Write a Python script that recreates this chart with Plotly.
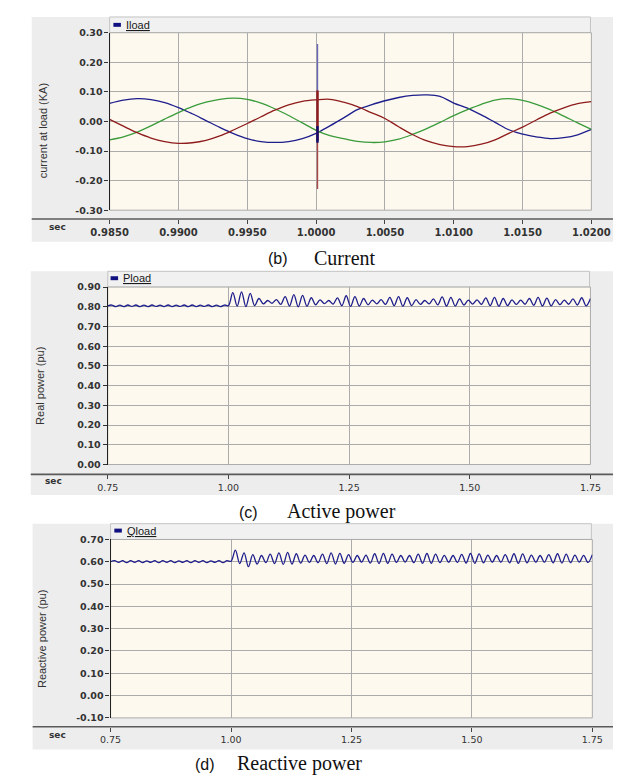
import numpy as np
import plotly.graph_objects as go

# ---------------- DATA ----------------
# Panel (b): load current (kA), sampled every 1 ms from 0.985 s to 1.020 s
t_current = [round(0.985 + 0.001 * i, 3) for i in range(36)]
i_blue = [0.061, 0.072, 0.077, 0.074, 0.064, 0.047, 0.026, 0.003, -0.020, -0.041,
          -0.058, -0.068, -0.071, -0.068, -0.058, -0.040,
          -0.015, 0.012, 0.040, 0.056, 0.070, 0.081, 0.088, 0.090, 0.085, 0.062,
          0.045, 0.022, -0.003, -0.028, -0.043, -0.052, -0.058, -0.055, -0.045, -0.027]
i_red = [0.007, -0.016, -0.038, -0.056, -0.068, -0.074, -0.072, -0.064, -0.049, -0.029,
         -0.007, 0.016, 0.038, 0.056, 0.068, 0.073,
         0.075, 0.065, 0.050, 0.030, 0.010, -0.018, -0.044, -0.065, -0.078, -0.085,
         -0.085, -0.077, -0.062, -0.040, -0.019, 0.005, 0.028, 0.046, 0.060, 0.067]
i_green = [-0.062, -0.052, -0.036, -0.015, 0.008, 0.030, 0.050, 0.065, 0.075, 0.079,
           0.075, 0.062, 0.043, 0.020, -0.005, -0.030,
           -0.048, -0.058, -0.067, -0.071, -0.069, -0.060, -0.044, -0.025, -0.003, 0.020,
           0.040, 0.058, 0.072, 0.077, 0.071, 0.058, 0.040, 0.018, -0.005, -0.027]
# switching transient at t = 1.0001 s
spike_t = [1.0001, 1.0001]
spike_blue = [0.262, -0.072]
spike_blue_core = [-0.015, -0.072]
spike_red = [0.105, -0.228]
spike_red_core = [0.105, -0.065]

# Panels (c)/(d): ripple extremes (pre-fault 0.75-1.0 s, post-fault 1.0-1.75 s)
t_pre = np.linspace(0.75, 1.0, 31)
t_post = np.linspace(1.0, 1.75, 84)[1:]
p_pre = [0.805, 0.809, 0.801, 0.808, 0.801, 0.809, 0.802, 0.809, 0.801, 0.808, 0.801,
         0.809, 0.802, 0.808, 0.801, 0.809, 0.801, 0.808, 0.802, 0.809, 0.801, 0.809,
         0.801, 0.808, 0.802, 0.809, 0.801, 0.808, 0.801, 0.809, 0.806]
p_peaks = [0.872, 0.876, 0.868, 0.842, 0.832, 0.836, 0.852, 0.862, 0.858, 0.846,
           0.835, 0.832, 0.845, 0.856, 0.852, 0.842, 0.834, 0.836, 0.848, 0.852,
           0.846, 0.836, 0.832, 0.840, 0.850, 0.848, 0.840, 0.834, 0.835, 0.845,
           0.848, 0.842, 0.835, 0.834, 0.842, 0.848, 0.844, 0.836, 0.834, 0.840,
           0.846, 0.842]
p_troughs = [0.803, 0.801, 0.806, 0.815, 0.818, 0.812, 0.804, 0.800, 0.803, 0.810,
             0.816, 0.814, 0.806, 0.802, 0.804, 0.810, 0.815, 0.812, 0.806, 0.803,
             0.806, 0.812, 0.815, 0.810, 0.804, 0.804, 0.809, 0.814, 0.812, 0.806,
             0.803, 0.806, 0.812, 0.813, 0.808, 0.804, 0.805, 0.811, 0.813, 0.809,
             0.805]
q_pre = [0.600, 0.605, 0.597, 0.605, 0.596, 0.605, 0.597, 0.605, 0.596, 0.604, 0.597,
         0.605, 0.596, 0.605, 0.597, 0.605, 0.596, 0.604, 0.597, 0.605, 0.596, 0.605,
         0.597, 0.605, 0.596, 0.604, 0.597, 0.605, 0.596, 0.605, 0.602]
q_peaks = [0.652, 0.640, 0.632, 0.628, 0.634, 0.640, 0.642, 0.636, 0.630, 0.628,
           0.634, 0.640, 0.638, 0.632, 0.628, 0.630, 0.636, 0.638, 0.634, 0.628,
           0.628, 0.634, 0.637, 0.634, 0.629, 0.628, 0.633, 0.637, 0.635, 0.630,
           0.628, 0.632, 0.636, 0.635, 0.630, 0.628, 0.632, 0.636, 0.634, 0.630,
           0.629, 0.632]
q_troughs = [0.592, 0.578, 0.590, 0.596, 0.592, 0.588, 0.590, 0.594, 0.597, 0.596,
             0.592, 0.590, 0.593, 0.597, 0.598, 0.594, 0.592, 0.593, 0.597, 0.598,
             0.596, 0.593, 0.593, 0.596, 0.598, 0.597, 0.594, 0.593, 0.595, 0.598,
             0.598, 0.595, 0.593, 0.595, 0.598, 0.598, 0.595, 0.594, 0.596, 0.598,
             0.597]

# Tick labels
i_xticks = [0.985, 0.990, 0.995, 1.000, 1.005, 1.010, 1.015, 1.020]
i_xlabels = ["0.9850", "0.9900", "0.9950", "1.0000", "1.0050", "1.0100", "1.0150", "1.0200"]
i_yticks = [-0.3, -0.2, -0.1, 0.0, 0.1, 0.2, 0.3]
i_ylabels = ["-0.30", "-0.20", "-0.10", "0.00", "0.10", "0.20", "0.30"]
pq_xticks = [0.75, 1.00, 1.25, 1.50, 1.75]
pq_xlabels = ["0.75", "1.00", "1.25", "1.50", "1.75"]
p_yticks = [0.0, 0.1, 0.2, 0.3, 0.4, 0.5, 0.6, 0.7, 0.8, 0.9]
p_ylabels = ["0.00", "0.10", "0.20", "0.30", "0.40", "0.50", "0.60", "0.70", "0.80", "0.90"]
q_yticks = [-0.1, 0.0, 0.1, 0.2, 0.3, 0.4, 0.5, 0.6, 0.7]
q_ylabels = ["-0.10", "0.00", "0.10", "0.20", "0.30", "0.40", "0.50", "0.60", "0.70"]


def interleave(peaks, troughs):
    out = []
    for k, p in enumerate(peaks):
        out.append(p)
        if k < len(troughs):
            out.append(troughs[k])
    return out


def bold(labels):
    return ["<b>" + s + "</b>" for s in labels]


p_series = list(p_pre) + interleave(p_peaks, p_troughs)
q_series = list(q_pre) + interleave(q_peaks, q_troughs)
t_series = list(t_pre) + list(t_post)

# ---------------- STYLE ----------------
W, H = 624, 778
def px(x): return x / W
def py(y): return 1 - y / H

NAVY = "#1E1E8C"
RED = "#8E1C1C"
GREEN = "#3A9B3A"
PANEL = "#EDEDED"
STRIP = "#F1F1F1"
CREAM = "#FDF9EE"
GRID = "#ABABAB"
TICKC = "#333333"

panels = [
    dict(x0=88, x1=601, yt=19, yb=199, ax=208, box=(5, 3, 624, 231), strip_b=19,
         sec=(32, 216), title="current at load (KA)", tpos=(17, 118), leg="Iload",
         legx=92, legy=11, xfs=10, xbold=True),
    dict(x0=86, x1=600, yt=277, yb=457, ax=467, box=(4, 261, 624, 488), strip_b=277,
         sec=(28, 474), title="Real power (pu)", tpos=(13, 377), leg="Pload",
         legx=89, legy=268, xfs=9.5, xbold=False),
    dict(x0=89, x1=602, yt=533, yb=714, ax=723, box=(6, 517, 624, 746), strip_b=533,
         sec=(32, 731), title="Reactive power (pu)", tpos=(16, 634), leg="Qload",
         legx=93, legy=524, xfs=9.5, xbold=False),
]

fig = go.Figure()

# traces panel (b)
fig.add_trace(go.Scatter(x=t_current, y=i_blue, mode="lines", line=dict(color=NAVY, width=1.3, shape="spline"),
                         xaxis="x", yaxis="y", showlegend=False, hoverinfo="skip"))
fig.add_trace(go.Scatter(x=t_current, y=i_green, mode="lines", line=dict(color=GREEN, width=1.3, shape="spline"),
                         xaxis="x", yaxis="y", showlegend=False, hoverinfo="skip"))
fig.add_trace(go.Scatter(x=t_current, y=i_red, mode="lines", line=dict(color=RED, width=1.3, shape="spline"),
                         xaxis="x", yaxis="y", showlegend=False, hoverinfo="skip"))
fig.add_trace(go.Scatter(x=spike_t, y=spike_blue, mode="lines", line=dict(color="#6868B4", width=1.4),
                         xaxis="x", yaxis="y", showlegend=False, hoverinfo="skip"))
fig.add_trace(go.Scatter(x=spike_t, y=spike_red, mode="lines", line=dict(color="#A84848", width=1.4),
                         xaxis="x", yaxis="y", showlegend=False, hoverinfo="skip"))
fig.add_trace(go.Scatter(x=spike_t, y=spike_red_core, mode="lines", line=dict(color=RED, width=2.4),
                         xaxis="x", yaxis="y", showlegend=False, hoverinfo="skip"))
fig.add_trace(go.Scatter(x=spike_t, y=spike_blue_core, mode="lines", line=dict(color="#101070", width=2.4),
                         xaxis="x", yaxis="y", showlegend=False, hoverinfo="skip"))

# traces panels (c),(d)
fig.add_trace(go.Scatter(x=t_series, y=p_series, mode="lines",
                         line=dict(color=NAVY, width=1.3, shape="spline", smoothing=1.0),
                         xaxis="x2", yaxis="y2", showlegend=False, hoverinfo="skip"))
fig.add_trace(go.Scatter(x=t_series, y=q_series, mode="lines",
                         line=dict(color=NAVY, width=1.3, shape="spline", smoothing=1.0),
                         xaxis="x3", yaxis="y3", showlegend=False, hoverinfo="skip"))

# dummy traces for the detached tick axes
for ax, rng, yax in [("x4", [0.985, 1.020], "y"), ("x5", [0.75, 1.75], "y2"), ("x6", [0.75, 1.75], "y3")]:
    fig.add_trace(go.Scatter(x=rng, y=[None, None], mode="lines", xaxis=ax, yaxis=yax,
                             showlegend=False, hoverinfo="skip"))

shapes = []
annotations = []
layout_axes = {}

ranges = [
    dict(xr=[0.985, 1.020], xt=i_xticks, xl=i_xlabels, yr=[-0.30, 0.30], yt=i_yticks, yl=i_ylabels),
    dict(xr=[0.75, 1.75], xt=pq_xticks, xl=pq_xlabels, yr=[0.0, 0.90], yt=p_yticks, yl=p_ylabels),
    dict(xr=[0.75, 1.75], xt=pq_xticks, xl=pq_xlabels, yr=[-0.10, 0.70], yt=q_yticks, yl=q_ylabels),
]

for k, (p, r) in enumerate(zip(panels, ranges)):
    n = "" if k == 0 else str(k + 1)
    xa, ya, fa = "xaxis" + n, "yaxis" + n, "xaxis" + str(k + 4)
    xref = "x" + n
    yref = "y" + n
    bx0, by0, bx1, by1 = p["box"]
    shapes.append(dict(type="rect", xref="paper", yref="paper", layer="below",
                       x0=px(bx0), x1=px(bx1), y0=py(by1), y1=py(by0),
                       fillcolor=PANEL, line=dict(width=0)))
    shapes.append(dict(type="rect", xref="paper", yref="paper", layer="below",
                       x0=px(p["x0"]), x1=px(p["x1"] - 1), y0=py(p["strip_b"]), y1=py(by0),
                       fillcolor=STRIP, line=dict(color="#C4C4C4", width=1)))
    shapes.append(dict(type="rect", xref="paper", yref="paper", layer="below",
                       x0=px(p["x0"]), x1=px(p["x1"]), y0=py(p["yb"]), y1=py(p["yt"]),
                       fillcolor=CREAM, line=dict(color=GRID, width=1)))
    shapes.append(dict(type="line", xref="paper", yref="paper", layer="above",
                       x0=px(bx0), x1=px(bx1), y0=py(p["ax"]), y1=py(p["ax"]),
                       line=dict(color="#5A5A5A", width=1.6)))
    shapes.append(dict(type="rect", xref="paper", yref="paper", layer="above",
                       x0=px(p["legx"]), x1=px(p["legx"] + 8), y0=py(p["legy"] + 2), y1=py(p["legy"] - 2),
                       fillcolor="#101080", line=dict(width=0)))
    annotations.append(dict(xref="paper", yref="paper", x=px(p["legx"] + 11), y=py(p["legy"]),
                            xanchor="left", yanchor="middle", showarrow=False,
                            text="<u>" + p["leg"] + "</u>",
                            font=dict(family="Liberation Sans", size=11, color="#1A1A1A")))
    annotations.append(dict(xref="paper", yref="paper", x=px(p["sec"][0]), y=py(p["sec"][1]),
                            xanchor="center", yanchor="middle", showarrow=False, text="<b>sec</b>",
                            font=dict(family="DejaVu Sans", size=9, color="#333333")))
    annotations.append(dict(xref="paper", yref="paper", x=px(p["tpos"][0]), y=py(p["tpos"][1]),
                            xanchor="center", yanchor="middle", showarrow=False, textangle=-90,
                            text=p["title"],
                            font=dict(family="Liberation Sans", size=11, color="#333333")))

    dom_x = [px(p["x0"]), px(p["x1"])]
    dom_y = [py(p["yb"]), py(p["yt"])]
    layout_axes[xa] = dict(domain=dom_x, range=r["xr"], anchor=yref, tickvals=r["xt"],
                           showticklabels=False, ticks="", showgrid=True, gridcolor=GRID,
                           gridwidth=1, zeroline=False, showline=False, fixedrange=True)
    layout_axes[ya] = dict(domain=dom_y, range=r["yr"], anchor=xref, tickvals=r["yt"], ticktext=bold(r["yl"]),
                           ticks="outside", ticklen=4, tickcolor="#333333", tickwidth=1,
                           showgrid=True, gridcolor=GRID, gridwidth=1, zeroline=False,
                           showline=True, linecolor="#222222", linewidth=1.3,
                           tickfont=dict(family="DejaVu Sans", size=9.5, color=TICKC), fixedrange=True)
    layout_axes[fa] = dict(overlaying=xref, anchor="free", position=py(p["ax"]), side="bottom",
                           range=r["xr"], tickvals=r["xt"],
                           ticktext=bold(r["xl"]) if p["xbold"] else r["xl"],
                           ticks="outside", ticklen=4, tickcolor="#444444", tickwidth=1,
                           showgrid=False, zeroline=False, showline=False,
                           tickfont=dict(family="DejaVu Sans", size=p["xfs"], color=TICKC), fixedrange=True)

captions = [("(b)", "Current", 280, 303, 247), ("(c)", "Active power", 248, 275, 505),
            ("(d)", "Reactive power", 202, 222, 760)]
for lab, txt, xr, xl, yc in captions:
    annotations.append(dict(xref="paper", yref="paper", x=px(xr), y=py(yc + 1), xanchor="right",
                            yanchor="middle", showarrow=False, text=lab,
                            font=dict(family="Liberation Sans", size=16, color="#111111")))
    annotations.append(dict(xref="paper", yref="paper", x=px(xl), y=py(yc), xanchor="left",
                            yanchor="middle", showarrow=False, text=txt,
                            font=dict(family="Liberation Serif", size=20, color="#111111")))

fig.update_layout(width=W, height=H, margin=dict(l=0, r=0, t=0, b=0),
                  paper_bgcolor="white", plot_bgcolor="rgba(0,0,0,0)",
                  showlegend=False, shapes=shapes, annotations=annotations, **layout_axes)

fig.write_html("out.html")
